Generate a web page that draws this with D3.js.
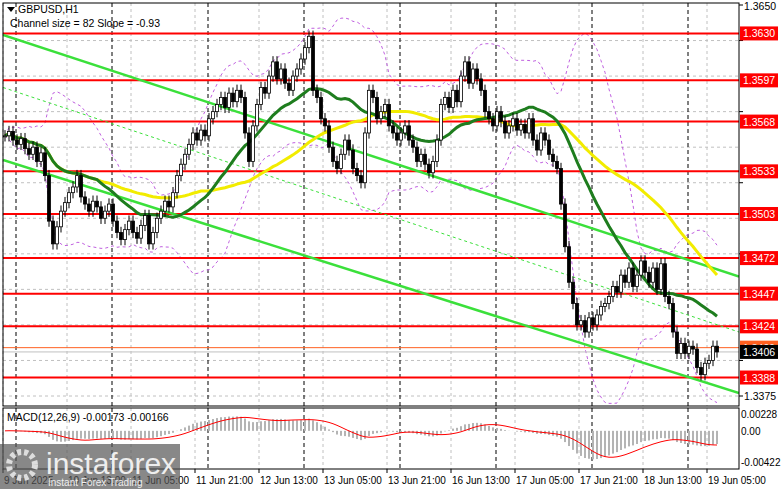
<!DOCTYPE html>
<html>
<head>
<meta charset="UTF-8">
<script src="https://d3js.org/d3.v7.min.js"></script>
<style>
  body { margin: 0; background: #fff; }
  text { font-family: "Liberation Sans", Arial, sans-serif; font-size: 10.5px; }
</style>
</head>
<body>
<svg id="chart" width="781" height="489"></svg>
<script>
// closing prices, one per hour
var closes = [
  1.3558,1.3561,1.3555,1.3552,1.3556,1.3549,1.3545,1.3550,1.3540,1.3546,
  1.3530,1.3498,1.3482,1.3494,1.3505,1.3511,1.3518,1.3522,1.3530,1.3515,
  1.3510,1.3505,1.3512,1.3508,1.3500,1.3505,1.3510,1.3498,1.3490,1.3485,
  1.3492,1.3498,1.3490,1.3486,1.3495,1.3502,1.3482,1.3490,1.3500,1.3505,
  1.3512,1.3508,1.3518,1.3530,1.3538,1.3545,1.3552,1.3560,1.3555,1.3562,
  1.3558,1.3570,1.3575,1.3580,1.3585,1.3578,1.3588,1.3582,1.3590,1.3585,
  1.3560,1.3540,1.3565,1.3580,1.3592,1.3588,1.3600,1.3610,1.3598,1.3605,
  1.3595,1.3590,1.3600,1.3605,1.3612,1.3620,1.3628,1.3590,1.3585,1.3570,
  1.3565,1.3550,1.3540,1.3535,1.3545,1.3555,1.3548,1.3535,1.3530,1.3525,
  1.3560,1.3590,1.3585,1.3570,1.3575,1.3580,1.3565,1.3560,1.3555,1.3560,
  1.3565,1.3555,1.3550,1.3540,1.3545,1.3538,1.3532,1.3540,1.3555,1.3580,
  1.3585,1.3578,1.3590,1.3582,1.3600,1.3610,1.3595,1.3605,1.3598,1.3590,
  1.3575,1.3570,1.3565,1.3575,1.3568,1.3560,1.3565,1.3570,1.3562,1.3566,
  1.3560,1.3570,1.3555,1.3548,1.3560,1.3555,1.3545,1.3540,1.3535,1.3510,
  1.3480,1.3455,1.3440,1.3425,1.3428,1.3420,1.3430,1.3425,1.3432,1.3438,
  1.3440,1.3445,1.3452,1.3448,1.3460,1.3455,1.3465,1.3452,1.3460,1.3470,
  1.3462,1.3455,1.3465,1.3450,1.3468,1.3445,1.3440,1.3420,1.3405,1.3412,
  1.3405,1.3410,1.3408,1.3395,1.3390,1.3398,1.3400,1.3410,1.3406
];
var levels = [1.3630,1.3597,1.3568,1.3533,1.3503,1.3472,1.3447,1.3424,1.3388];
var priceTicks = [1.3650,1.3625,1.3575,1.3525,1.3475,1.3400,1.3375];
var gridPrices = [1.3625,1.3600,1.3575,1.3550,1.3525,1.3500,1.3475,1.3450,1.3425,1.3400,1.3375];
var timeLabels = ["9 Jun 2025","10 Jun 13:00","11 Jun 05:00","11 Jun 21:00","12 Jun 13:00","13 Jun 05:00",
                  "13 Jun 21:00","16 Jun 13:00","17 Jun 05:00","17 Jun 21:00","18 Jun 13:00","19 Jun 05:00"];
var macdTicks = [0.00228, 0.00, -0.00422];
// channel lines: [startPrice, endPrice] from first to last plotted column
var channels = [[1.3629, 1.3459, "solid"], [1.3541, 1.3377, "solid"], [1.3592, 1.3420, "dash"]];
var askPrice = 1.3409, bidPrice = 1.3406;

var svg = d3.select("#chart");
var L = 3, R = 739, T = 3, B = 406, MT = 408, MB = 469;

var x = d3.scaleLinear().domain([0, 184]).range([L + 2, L + 2 + 184 * 4]);
var y = d3.scaleLinear().domain([1.3375, 1.3650]).range([396, 5]);
var ym = d3.scaleLinear().domain([-0.00422, 0.00228]).range([462, 414]);

svg.append("rect").attr("width", 781).attr("height", 489).attr("fill", "#fff");

// grid
var grid = svg.append("g").attr("stroke", "#c0c0c0").attr("stroke-dasharray", "3,3");
gridPrices.forEach(function(p) {
  grid.append("line").attr("x1", L).attr("x2", R).attr("y1", y(p)).attr("y2", y(p));
});
timeLabels.forEach(function(t, i) {
  var xx = x(i * 16) - 2;
  grid.append("line").attr("x1", xx).attr("x2", xx).attr("y1", T).attr("y2", B);
  grid.append("line").attr("x1", xx).attr("x2", xx).attr("y1", MT).attr("y2", MB);
});
var seps = svg.append("g").attr("stroke", "#000").attr("stroke-dasharray", "4,3");
for (var s = 3; s < 179; s += 24) {
  var sx = x(s) - 1;
  seps.append("line").attr("x1", sx).attr("x2", sx).attr("y1", T).attr("y2", B);
  seps.append("line").attr("x1", sx).attr("x2", sx).attr("y1", MT).attr("y2", MB);
}

// indicators
function sma(arr, n) {
  return arr.map(function(v, i) { var a = arr.slice(Math.max(0, i - n + 1), i + 1); return d3.mean(a); });
}
function ema(arr, n) {
  var k = 2 / (n + 1), out = [], prev = arr[0];
  arr.forEach(function(v) { prev = v * k + prev * (1 - k); out.push(prev); });
  return out;
}
var idx = d3.range(closes.length);
var ma24 = sma(closes, 24), ma50 = sma(closes, 50);
var up = [], dn = [];
idx.forEach(function(i) {
  var a = closes.slice(Math.max(0, i - 19), i + 1), m = d3.mean(a), sd = d3.deviation(a) || 0;
  up.push(m + 2 * sd); dn.push(m - 2 * sd);
});
var line = function(arr) { return d3.line().x(function(i) { return x(i); }).y(function(i) { return y(arr[i]); })(idx); };

svg.append("clipPath").attr("id", "main").append("rect")
  .attr("x", L).attr("y", T).attr("width", R - L).attr("height", B - T);
var main = svg.append("g").attr("clip-path", "url(#main)");

main.append("path").attr("d", line(up)).attr("fill", "none").attr("stroke", "#c060e0").attr("stroke-dasharray", "3,3");
main.append("path").attr("d", line(dn)).attr("fill", "none").attr("stroke", "#c060e0").attr("stroke-dasharray", "3,3");

levels.forEach(function(p) {
  main.append("line").attr("x1", L).attr("x2", R).attr("y1", y(p)).attr("y2", y(p)).attr("stroke", "#f00").attr("stroke-width", 2);
});
main.append("line").attr("x1", L).attr("x2", R).attr("y1", y(askPrice)).attr("y2", y(askPrice)).attr("stroke", "#ff6020").attr("stroke-width", 1);
main.append("line").attr("x1", L).attr("x2", R).attr("y1", y(bidPrice)).attr("y2", y(bidPrice)).attr("stroke", "#c0c0c0").attr("stroke-width", 1);

channels.forEach(function(c) {
  main.append("line").attr("x1", L).attr("x2", R)
    .attr("y1", y(c[0])).attr("y2", y(c[1]))
    .attr("stroke", "#3be03b").attr("stroke-width", c[2] == "dash" ? 1 : 2.5)
    .attr("stroke-dasharray", c[2] == "dash" ? "3,3" : null);
});

main.append("path").attr("d", line(ma50)).attr("fill", "none").attr("stroke", "#f2ec00").attr("stroke-width", 3);
main.append("path").attr("d", line(ma24)).attr("fill", "none").attr("stroke", "#1e7d1e").attr("stroke-width", 3);

// candles
var wick = 0.0004;
var candles = main.append("g");
idx.forEach(function(i) {
  var c = closes[i], o = i ? closes[i - 1] : c;
  var hi = Math.max(o, c) + wick, lo = Math.min(o, c) - wick;
  candles.append("line").attr("x1", x(i)).attr("x2", x(i)).attr("y1", y(hi)).attr("y2", y(lo)).attr("stroke", "#000");
  var top = y(Math.max(o, c)), h = Math.max(1, Math.abs(y(o) - y(c)));
  candles.append("rect").attr("x", x(i) - 1.5).attr("y", top).attr("width", 3).attr("height", h)
    .attr("fill", c >= o ? "#fff" : "#000").attr("stroke", "#000").attr("stroke-width", 0.8);
});

// MACD
var e12 = ema(closes, 12), e26 = ema(closes, 26);
var macd = idx.map(function(i) { return e12[i] - e26[i]; });
var signal = sma(macd, 9);
var mg = svg.append("g");
idx.forEach(function(i) {
  var v = macd[i];
  mg.append("rect").attr("x", x(i) - 1).attr("width", 2)
    .attr("y", Math.min(ym(0), ym(v))).attr("height", Math.abs(ym(v) - ym(0)))
    .attr("fill", "#b4b4b4");
});
mg.append("path").attr("d", d3.line().x(function(i) { return x(i); }).y(function(i) { return ym(signal[i]); })(idx))
  .attr("fill", "none").attr("stroke", "#f00");

// frames
svg.append("rect").attr("x", L).attr("y", T).attr("width", R - L).attr("height", B - T).attr("fill", "none").attr("stroke", "#000");
svg.append("rect").attr("x", L).attr("y", MT).attr("width", R - L).attr("height", MB - MT).attr("fill", "none").attr("stroke", "#000");

// axes labels
var hidden = levels.concat([askPrice, bidPrice]);
priceTicks.forEach(function(p) {
  svg.append("line").attr("x1", R).attr("x2", R + 4).attr("y1", y(p)).attr("y2", y(p)).attr("stroke", "#000");
  var covered = hidden.some(function(h) { return Math.abs(y(h) - y(p)) < 12; });
  if (!covered) svg.append("text").attr("x", R + 5).attr("y", Math.max(y(p) + 4, 10)).text(p.toFixed(4));
});
function tag(p, txt, fill) {
  svg.append("rect").attr("x", R + 1).attr("y", y(p) - 7).attr("width", 38).attr("height", 14).attr("fill", fill);
  svg.append("text").attr("x", R + 4).attr("y", y(p) + 4).attr("fill", "#fff").text(txt);
}
levels.forEach(function(p) { tag(p, p.toFixed(4), "#f00"); });
tag(askPrice, askPrice.toFixed(4), "#ff6020");
tag(bidPrice, bidPrice.toFixed(4), "#000");
macdTicks.forEach(function(v) {
  svg.append("text").attr("x", R + 2).attr("y", ym(v) + 4).style("font-size", "10px").text(v === 0 ? "0.00" : v.toFixed(5));
});
timeLabels.forEach(function(t, i) {
  var xx = x(i * 16) - 2;
  svg.append("line").attr("x1", xx).attr("x2", xx).attr("y1", MB).attr("y2", MB + 4).attr("stroke", "#000");
  svg.append("text").attr("x", xx + 1).attr("y", MB + 15).style("font-size", "10px").text(t);
});

svg.append("path").attr("d", "M7,7 L15,7 L11,12 Z").attr("fill", "#000");
svg.append("text").attr("x", 18).attr("y", 13).text("GBPUSD,H1");
svg.append("text").attr("x", 10).attr("y", 27).text("Channel size = 82 Slope = -0.93");
svg.append("text").attr("x", 7).attr("y", 421).text("MACD(12,26,9) -0.00173 -0.00166");

// watermark
var wm = svg.append("g");
wm.append("rect").attr("x", 0).attr("y", 444).attr("width", 180).attr("height", 45).attr("fill", "#555").attr("opacity", 0.7);
wm.append("circle").attr("cx", 22).attr("cy", 465).attr("r", 13).attr("fill", "none").attr("stroke", "#ddd").attr("stroke-width", 6).attr("stroke-dasharray", "4,3");
wm.append("text").attr("x", 46).attr("y", 474).attr("fill", "#eee").style("font-size", "30px").text("instaforex");
wm.append("text").attr("x", 48).attr("y", 486).attr("fill", "#eee").style("font-size", "10px").text("Instant Forex Trading");
</script>
</body>
</html>
